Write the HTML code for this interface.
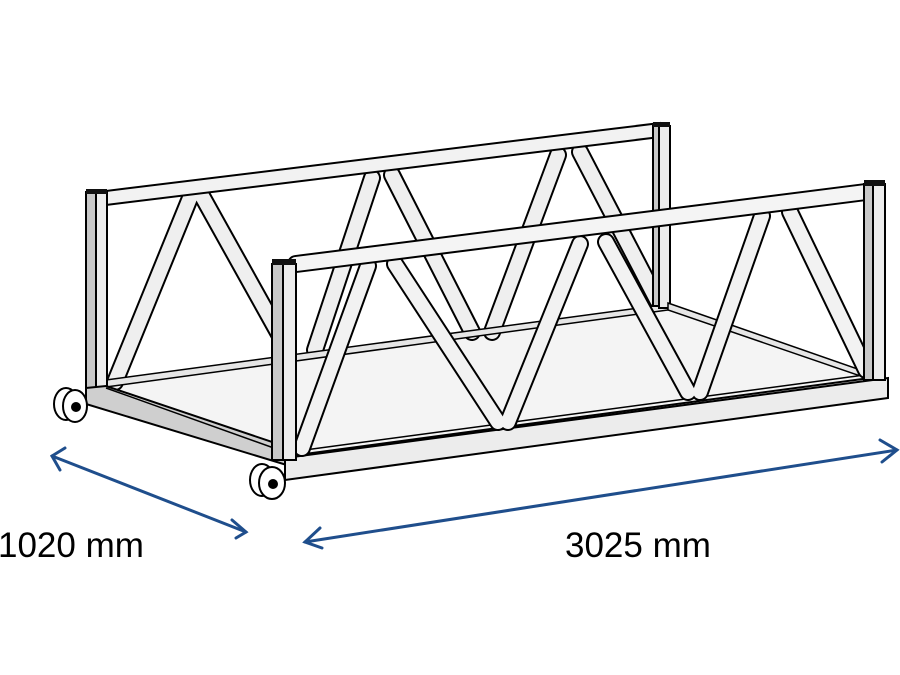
<!DOCTYPE html>
<html><head><meta charset="utf-8"><style>
html,body{margin:0;padding:0;background:#fff;width:900px;height:675px;overflow:hidden}
svg{display:block}
text{font-family:"Liberation Sans",sans-serif;font-size:35px;fill:#000}
</style></head><body>
<svg width="900" height="675" viewBox="0 0 900 675">
<!-- floor -->
<polygon points="106,386 668,308 870,378 290,456" fill="#f4f4f4" stroke="#000" stroke-width="2"/>
<!-- back truss diagonals -->
<g stroke-linecap="round">
<g stroke="#000" stroke-width="18" fill="none">
<line x1="115" y1="382" x2="190" y2="198"/><line x1="202" y1="196" x2="285" y2="345"/>
<line x1="315" y1="350" x2="372" y2="178"/><line x1="392" y1="175" x2="472" y2="332"/>
<line x1="492" y1="332" x2="558" y2="155"/><line x1="580" y1="152" x2="657" y2="300"/>
</g>
<g stroke="#efefef" stroke-width="14" fill="none">
<line x1="115" y1="382" x2="190" y2="198"/><line x1="202" y1="196" x2="285" y2="345"/>
<line x1="315" y1="350" x2="372" y2="178"/><line x1="392" y1="175" x2="472" y2="332"/>
<line x1="492" y1="332" x2="558" y2="155"/><line x1="580" y1="152" x2="657" y2="300"/>
</g>
</g>
<!-- back bottom rail -->
<polygon points="106,380 668,304 668,310 106,387" fill="#e6e6e6" stroke="#000" stroke-width="1.5"/>
<!-- back top rail -->
<polygon points="106,191 660,123 660,137 106,205" fill="#f2f2f2" stroke="#000" stroke-width="2"/>
<!-- back posts -->
<rect x="86" y="192" width="10" height="196" fill="#c8c8c8" stroke="#000" stroke-width="2"/>
<rect x="96" y="192" width="11" height="196" fill="#ececec" stroke="#000" stroke-width="2"/>
<rect x="86" y="189" width="21" height="5" fill="#111"/>
<rect x="653" y="126" width="6" height="180" fill="#c8c8c8" stroke="#000" stroke-width="2"/>
<rect x="659" y="126" width="11" height="182" fill="#ececec" stroke="#000" stroke-width="2"/>
<rect x="653" y="122" width="17" height="5" fill="#111"/>
<!-- right end bottom -->
<polygon points="668,303 872,374 872,380 668,310" fill="#e6e6e6" stroke="#000" stroke-width="1.5"/>
<!-- left end beam -->
<polygon points="86,388 106,386 290,448 290,466 86,404" fill="#cfcfcf" stroke="#000" stroke-width="2"/>
<line x1="106" y1="388" x2="285" y2="452" stroke="#000" stroke-width="1.5"/>
<!-- wheels -->
<g stroke="#000" stroke-width="2">
<ellipse cx="66" cy="404" rx="12" ry="16" fill="#fff"/>
<ellipse cx="75" cy="406" rx="12" ry="16" fill="#fff"/>
<circle cx="76" cy="407" r="4" fill="#000"/>
<ellipse cx="262" cy="480" rx="12" ry="16" fill="#fff"/>
<ellipse cx="272" cy="483" rx="13" ry="16" fill="#fff"/>
<circle cx="273" cy="484" r="4" fill="#000"/>
</g>
<!-- front bottom rail -->
<polygon points="285,458 888,378 888,398 285,480" fill="#ececec" stroke="#000" stroke-width="2"/>
<line x1="290" y1="452" x2="872" y2="374" stroke="#000" stroke-width="1.5"/>
<!-- front diagonals -->
<g stroke-linecap="round">
<g stroke="#000" stroke-width="18" fill="none">
<line x1="302" y1="448" x2="368" y2="266"/><line x1="395" y1="264" x2="498" y2="422"/>
<line x1="508" y1="422" x2="580" y2="244"/><line x1="606" y1="242" x2="688" y2="392"/>
<line x1="700" y1="392" x2="762" y2="216"/><line x1="790" y1="212" x2="866" y2="370"/>
</g>
<g stroke="#f2f2f2" stroke-width="14" fill="none">
<line x1="302" y1="448" x2="368" y2="266"/><line x1="395" y1="264" x2="498" y2="422"/>
<line x1="508" y1="422" x2="580" y2="244"/><line x1="606" y1="242" x2="688" y2="392"/>
<line x1="700" y1="392" x2="762" y2="216"/><line x1="790" y1="212" x2="866" y2="370"/>
</g>
</g>
<!-- front top rail -->
<g stroke-linecap="round">
<line x1="296" y1="264" x2="866" y2="192" stroke="#000" stroke-width="18"/>
<line x1="296" y1="264" x2="866" y2="192" stroke="#f4f4f4" stroke-width="14"/>
</g>
<!-- front posts -->
<rect x="272" y="264" width="11" height="196" fill="#c8c8c8" stroke="#000" stroke-width="2"/>
<rect x="283" y="264" width="13" height="196" fill="#ececec" stroke="#000" stroke-width="2"/>
<rect x="272" y="259" width="24" height="6" fill="#111"/>
<rect x="864" y="184" width="9" height="196" fill="#c8c8c8" stroke="#000" stroke-width="2"/>
<rect x="873" y="184" width="12" height="196" fill="#ececec" stroke="#000" stroke-width="2"/>
<rect x="864" y="180" width="21" height="6" fill="#111"/>
<!-- dimension arrows -->
<g stroke="#1f4e8c" stroke-width="3" fill="none" stroke-linecap="round">
<line x1="52" y1="456" x2="246" y2="532"/>
<polyline points="65,448 52,456 60,470"/>
<polyline points="232,520 246,532 236,538"/>
<line x1="305" y1="542" x2="897" y2="450"/>
<polyline points="320,528 305,542 322,548"/>
<polyline points="880,440 897,450 882,462"/>
</g>
<text x="-2" y="557">1020 mm</text>
<text x="565" y="557">3025 mm</text>
</svg>
</body></html>
